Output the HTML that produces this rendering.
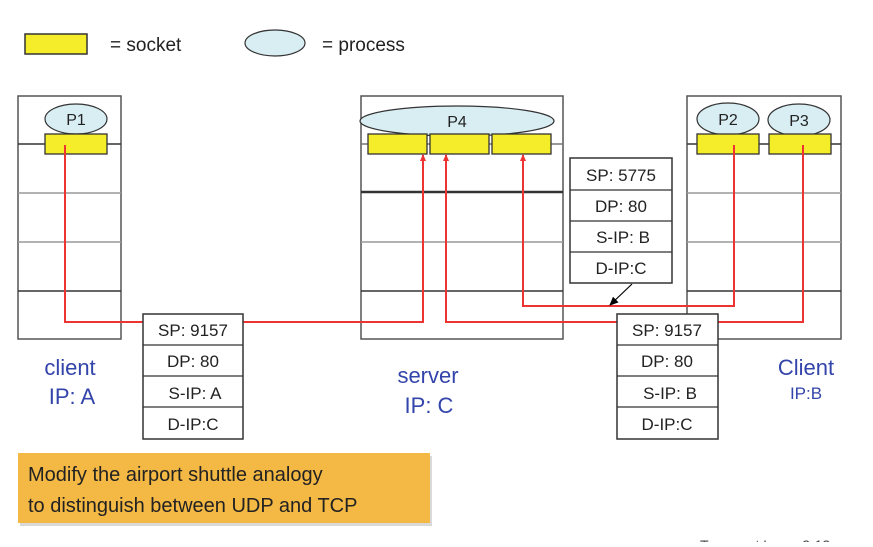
<!DOCTYPE html>
<html><head><style>
body{margin:0;background:#fff;width:873px;height:542px;overflow:hidden;}
svg text{font-family:"Liberation Sans",sans-serif;}
</style></head><body>
<svg width="873" height="542" xmlns="http://www.w3.org/2000/svg">
<defs><marker id="ar" markerUnits="userSpaceOnUse" markerWidth="8" markerHeight="8" refX="6" refY="4" orient="auto"><path d="M0,1 L7,4 L0,7 z" fill="#e33"/></marker>
<marker id="ak" markerUnits="userSpaceOnUse" markerWidth="10" markerHeight="10" refX="8" refY="5" orient="auto"><path d="M0,1 L9,5 L0,9 z" fill="#000"/></marker></defs>
<rect x="25" y="34" width="62" height="20" fill="#f5ec2a" stroke="#333" stroke-width="1.5"/>
<text x="110" y="51" font-size="19" fill="#222">= socket</text>
<ellipse cx="275" cy="43" rx="30" ry="13" fill="#d8eef3" stroke="#333" stroke-width="1.2"/>
<text x="322" y="51" font-size="19" fill="#222">= process</text>
<g stroke="#555" fill="none" stroke-width="1.5">
<rect x="18" y="96" width="103" height="243"/>
<line x1="18" y1="144" x2="121" y2="144" stroke="#333"/><line x1="18" y1="193" x2="121" y2="193" stroke="#999"/><line x1="18" y1="242" x2="121" y2="242" stroke="#999"/><line x1="18" y1="291" x2="121" y2="291" stroke="#333"/>
<rect x="361" y="96" width="202" height="243"/>
<line x1="361" y1="144" x2="563" y2="144" stroke="#777"/><line x1="361" y1="192" x2="563" y2="192" stroke="#333" stroke-width="2.5"/><line x1="361" y1="242" x2="563" y2="242" stroke="#999"/><line x1="361" y1="291" x2="563" y2="291" stroke="#333"/>
<rect x="687" y="96" width="154" height="243"/>
<line x1="687" y1="144" x2="841" y2="144" stroke="#333"/><line x1="687" y1="193" x2="841" y2="193" stroke="#999"/><line x1="687" y1="242" x2="841" y2="242" stroke="#999"/><line x1="687" y1="291" x2="841" y2="291" stroke="#333"/>
</g>
<g fill="#d8eef3" stroke="#333" stroke-width="1.2">
<ellipse cx="76" cy="119" rx="31" ry="15"/>
<ellipse cx="457" cy="121" rx="97" ry="15"/>
<ellipse cx="728" cy="119" rx="31" ry="16"/>
<ellipse cx="799" cy="120" rx="31" ry="16"/>
</g>
<g font-size="16" fill="#222" text-anchor="middle">
<text x="76" y="125">P1</text><text x="457" y="127">P4</text><text x="728" y="125">P2</text><text x="799" y="126">P3</text>
</g>
<g fill="#f5ec2a" stroke="#333" stroke-width="1.3">
<rect x="45" y="134" width="62" height="20"/>
<rect x="368" y="134" width="59" height="20"/><rect x="430" y="134" width="59" height="20"/><rect x="492" y="134" width="59" height="20"/>
<rect x="697" y="134" width="62" height="20"/><rect x="769" y="134" width="62" height="20"/>
</g>
<g stroke="#e33" stroke-width="2" fill="none">
<polyline points="65,145 65,322 423,322 423,155" marker-end="url(#ar)"/>
<polyline points="803,145 803,322 446,322 446,155" marker-end="url(#ar)"/>
<polyline points="734,145 734,306 523,306 523,155" marker-end="url(#ar)"/>
</g>
<line x1="632" y1="284" x2="610" y2="305" stroke="#000" stroke-width="1.2" marker-end="url(#ak)"/>
<g fill="#fff" stroke="#333" stroke-width="1.5">
<rect x="143" y="314" width="100" height="125"/>
<rect x="570" y="158" width="102" height="125"/>
<rect x="617" y="314" width="101" height="125"/>
</g>
<g stroke="#333" stroke-width="1.2">
<line x1="143" y1="345" x2="243" y2="345"/><line x1="143" y1="376" x2="243" y2="376"/><line x1="143" y1="407" x2="243" y2="407"/>
<line x1="570" y1="190" x2="672" y2="190"/><line x1="570" y1="221" x2="672" y2="221"/><line x1="570" y1="252" x2="672" y2="252"/>
<line x1="617" y1="345" x2="718" y2="345"/><line x1="617" y1="376" x2="718" y2="376"/><line x1="617" y1="407" x2="718" y2="407"/>
</g>
<g font-size="17" fill="#222" text-anchor="middle">
<text x="193" y="336">SP: 9157</text><text x="193" y="367">DP: 80</text><text x="195" y="399">S-IP: A</text><text x="193" y="430">D-IP:C</text>
<text x="621" y="181">SP: 5775</text><text x="621" y="212">DP: 80</text><text x="623" y="243">S-IP: B</text><text x="621" y="274">D-IP:C</text>
<text x="667" y="336">SP: 9157</text><text x="667" y="367">DP: 80</text><text x="670" y="399">S-IP: B</text><text x="667" y="430">D-IP:C</text>
</g>
<g fill="#3344aa" text-anchor="middle">
<text x="70" y="375" font-size="22">client</text><text x="72" y="404" font-size="22">IP: A</text>
<text x="428" y="383" font-size="22">server</text><text x="429" y="413" font-size="22">IP: C</text>
<text x="806" y="375" font-size="22">Client</text><text x="806" y="399" font-size="17">IP:B</text>
</g>
<rect x="20" y="456" width="412" height="70" fill="#000" opacity="0.15"/>
<rect x="18" y="453" width="412" height="70" fill="#f4b944"/>
<text x="28" y="481" font-size="20" fill="#222">Modify the airport shuttle analogy</text>
<text x="28" y="512" font-size="20" fill="#222">to distinguish between UDP and TCP</text>
<text x="700" y="550" font-size="14" fill="#444">Transport Layer 3-13</text>
</svg>
</body></html>
